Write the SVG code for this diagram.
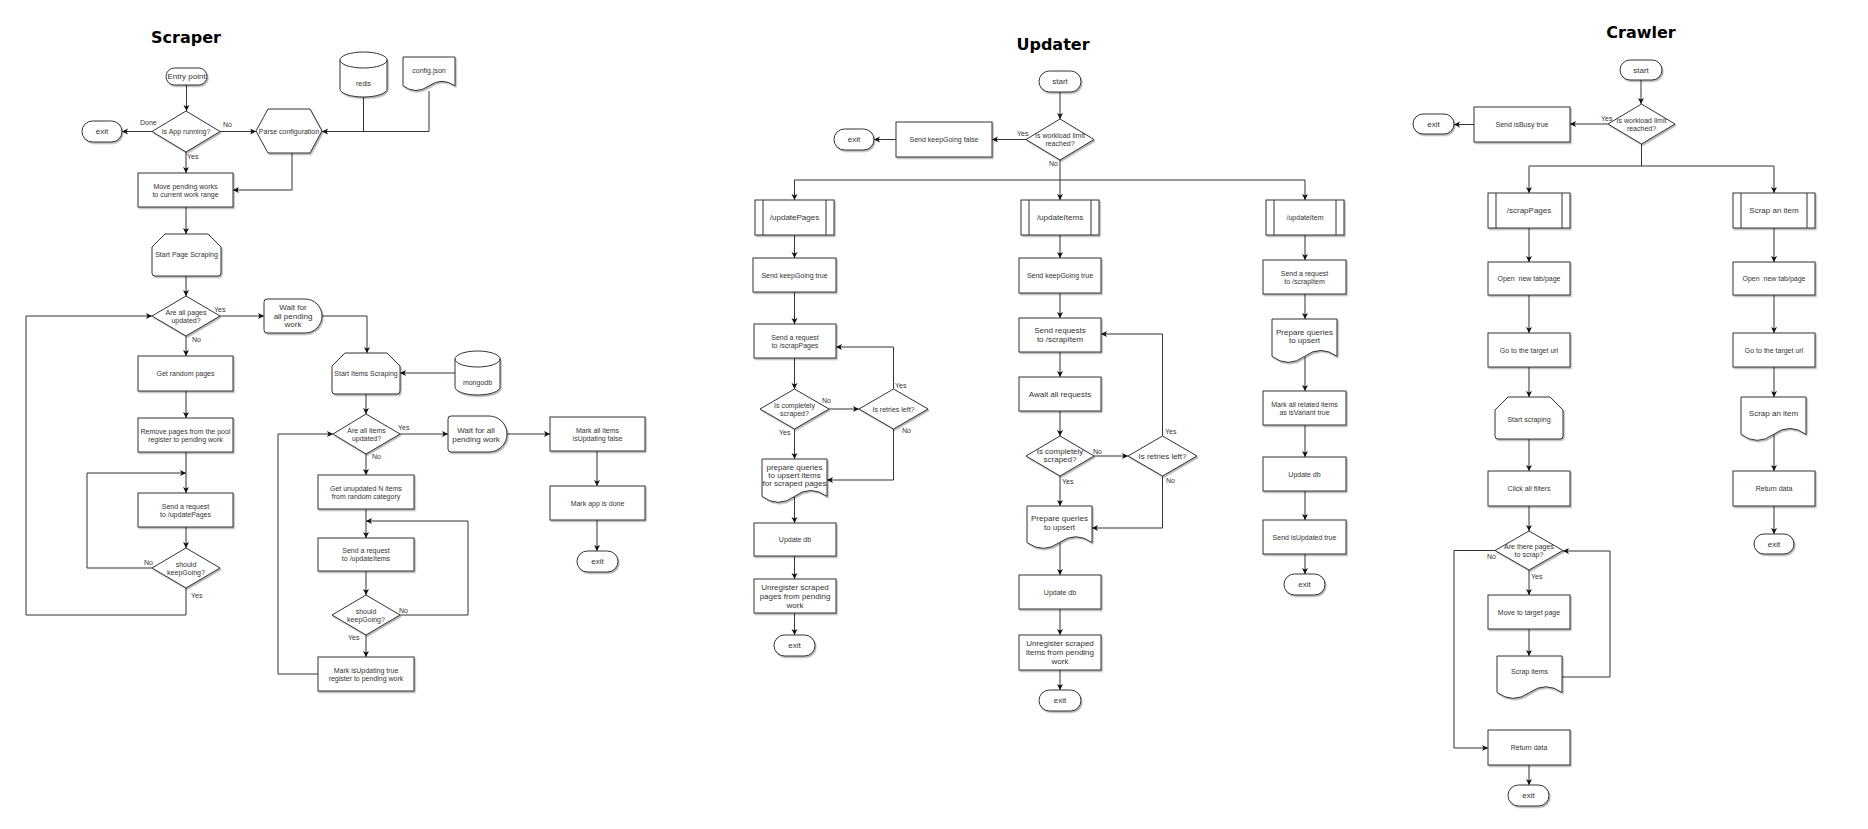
<svg xmlns="http://www.w3.org/2000/svg" width="1868" height="829" viewBox="0 0 1868 829">
<defs>
<style>
.s{fill:#fff;stroke:#333;stroke-width:1;filter:url(#sh)}
.i{fill:none;stroke:#333;stroke-width:1}
.c{fill:none;stroke:#333;stroke-width:1}
.a{marker-end:url(#ar)}
text{font-family:"Liberation Sans",Arial,sans-serif;fill:#333;text-anchor:middle}
.t{font-size:7px}
.t8{font-size:8px}
.l{font-size:7px;text-anchor:start}
.title{font-family:"DejaVu Sans",Verdana,sans-serif;font-weight:bold;font-size:16px;fill:#000}
</style>
<filter id="sh" x="-10%" y="-10%" width="130%" height="140%">
<feDropShadow dx="1.2" dy="1.5" stdDeviation="0.6" flood-color="#000" flood-opacity="0.3"/>
</filter>
<marker id="ar" markerUnits="userSpaceOnUse" markerWidth="7" markerHeight="7" refX="6" refY="3" orient="auto">
<path d="M0,0 L6,3 L0,6 L1.5,3 Z" fill="#111"/>
</marker>
</defs>
<rect width="1868" height="829" fill="#fff"/>

<text class="title" x="186" y="43">Scraper</text>
<text class="title" x="1053" y="50">Updater</text>
<text class="title" x="1641" y="38">Crawler</text>

<g id="connectors">
<!-- Scraper -->
<path class="c a" d="M186.5,85 V111"/>
<path class="c a" d="M152,131.5 H122"/>
<path class="c a" d="M220,131.5 H256"/>
<path class="c a" d="M186,152 V173"/>
<path class="c" d="M363.5,97 V131.5"/>
<path class="c a" d="M429,91 V131.5 H322"/>
<path class="c a" d="M292,153 V190 H233"/>
<path class="c a" d="M186,207 V234"/>
<path class="c a" d="M186,276 V296"/>
<path class="c a" d="M220,316 H264"/>
<path class="c a" d="M322,316 H367 V353"/>
<path class="c a" d="M186,336 V356"/>
<path class="c a" d="M186,391 V418"/>
<path class="c a" d="M186,452 V493"/>
<path class="c a" d="M152,568 H87 V473 H186"/>
<path class="c a" d="M186,527 V548"/>
<path class="c a" d="M186,588 V615 H26 V316 H152"/>
<path class="c a" d="M455,373 H400"/>
<path class="c a" d="M366,394 V414"/>
<path class="c a" d="M400,434 H448"/>
<path class="c a" d="M507,434 H550"/>
<path class="c a" d="M597,451 V486"/>
<path class="c a" d="M597,520 V551"/>
<path class="c a" d="M366,454 V475"/>
<path class="c a" d="M366,509 V538"/>
<path class="c a" d="M400,615 H468 V521 H366"/>
<path class="c a" d="M366,571 V595"/>
<path class="c a" d="M366,635 V657"/>
<path class="c a" d="M318,674 H278 V434 H333"/>
<text class="l" x="140" y="125">Done</text>
<text class="l" x="223" y="127">No</text>
<text class="l" x="187" y="159">Yes</text>
<text class="l" x="214" y="312">Yes</text>
<text class="l" x="192" y="342">No</text>
<text class="l" x="144" y="564.5">No</text>
<text class="l" x="191" y="598">Yes</text>
<text class="l" x="398" y="429.5">Yes</text>
<text class="l" x="372" y="459">No</text>
<text class="l" x="399" y="613">No</text>
<text class="l" x="348" y="640">Yes</text>
<!-- Updater -->
<path class="c a" d="M1060,92 V119"/>
<path class="c a" d="M1026,139.5 H992"/>
<path class="c a" d="M896,139.5 H874"/>
<path class="c a" d="M1060,160 V200"/>
<path class="c" d="M794.5,180 H1305"/>
<path class="c a" d="M794.5,180 V200"/>
<path class="c a" d="M1305,180 V200"/>
<path class="c a" d="M794.5,235 V258"/>
<path class="c a" d="M1060,235 V258"/>
<path class="c a" d="M1305,235 V260"/>
<path class="c a" d="M794.5,292 V324"/>
<path class="c a" d="M794.5,358 V389"/>
<path class="c a" d="M829,409 H859"/>
<path class="c a" d="M893.5,389 V347 H836"/>
<path class="c a" d="M893.5,429 V480 H827"/>
<path class="c a" d="M794.5,429 V459"/>
<path class="c a" d="M794.5,496.4 V523"/>
<path class="c a" d="M794.5,556 V579"/>
<path class="c a" d="M794.5,613 V635"/>
<path class="c a" d="M1060,293 V318"/>
<path class="c a" d="M1060,352 V377"/>
<path class="c a" d="M1060,411 V436"/>
<path class="c a" d="M1094,456 H1128"/>
<path class="c a" d="M1162.5,436 V334 H1101"/>
<path class="c a" d="M1162.5,476 V528 H1092"/>
<path class="c a" d="M1060,476 V506"/>
<path class="c a" d="M1060,542.5 V575"/>
<path class="c a" d="M1060,609 V635"/>
<path class="c a" d="M1060,670 V690"/>
<path class="c a" d="M1305,294 V319"/>
<path class="c a" d="M1305,356.4 V391"/>
<path class="c a" d="M1305,425 V457"/>
<path class="c a" d="M1305,491 V520"/>
<path class="c a" d="M1305,554 V574"/>
<text class="l" x="1017" y="136">Yes</text>
<text class="l" x="1049" y="166">No</text>
<text class="l" x="822" y="403">No</text>
<text class="l" x="779" y="435">Yes</text>
<text class="l" x="895" y="388">Yes</text>
<text class="l" x="902" y="432.5">No</text>
<text class="l" x="1093" y="454">No</text>
<text class="l" x="1062" y="484">Yes</text>
<text class="l" x="1165" y="434">Yes</text>
<text class="l" x="1166" y="483">No</text>
<!-- Crawler -->
<path class="c a" d="M1641,80 V104"/>
<path class="c a" d="M1608,124 H1570"/>
<path class="c a" d="M1474,124.5 H1454"/>
<path class="c" d="M1641.5,144 V166"/>
<path class="c" d="M1529,166 H1774"/>
<path class="c a" d="M1529,166 V193"/>
<path class="c a" d="M1774,166 V193"/>
<path class="c a" d="M1529,228 V262"/>
<path class="c a" d="M1529,295 V333"/>
<path class="c a" d="M1529,367 V397"/>
<path class="c a" d="M1529,439 V471"/>
<path class="c a" d="M1529,506 V531"/>
<path class="c a" d="M1495,550.5 H1454 V748 H1488"/>
<path class="c a" d="M1529,570 V595"/>
<path class="c a" d="M1529,629 V656"/>
<path class="c a" d="M1562,677 H1610 V551 H1563"/>
<path class="c a" d="M1529,765 V785"/>
<path class="c a" d="M1774,228 V262"/>
<path class="c a" d="M1774,295 V333"/>
<path class="c a" d="M1774,367 V397"/>
<path class="c a" d="M1774,434.4 V471"/>
<path class="c a" d="M1774,506 V534"/>
<text class="l" x="1601" y="121">Yes</text>
<text class="l" x="1487" y="559">No</text>
<text class="l" x="1531" y="578.5">Yes</text>
</g>

<!-- ===== Scraper nodes ===== -->
<g id="s-entry"><rect class="s" x="166" y="68" width="41" height="17" rx="8.5"/><text class="t8" x="186.5" y="79.3">Entry point</text></g>
<g id="s-running"><polygon class="s" points="152,131.5 186,111 220,131.5 186,152"/><text class="t" x="186" y="134">Is App running?</text></g>
<g id="s-exit1"><rect class="s" x="82" y="121" width="40" height="21" rx="10.5"/><text class="t8" x="102" y="134.3">exit</text></g>
<g id="s-parse"><polygon class="s" points="256,131 268,109 310,109 322,131 310,153 268,153"/><text class="t" x="289" y="133.5">Parse configuration</text></g>
<g id="s-redis"><path class="s" d="M340,60 A23.5,8 0 0 1 387,60 V89 A23.5,8 0 0 1 340,89 Z"/><path class="i" d="M340,60 A23.5,8 0 0 0 387,60"/><text class="t" x="363.5" y="85.5">redis</text></g>
<g id="s-config"><path class="s" d="M403,57 H455 V85.9 Q442,76.7 429,85.9 Q416,95.1 403,85.9 Z"/><text class="t" x="429" y="72.5">config.json</text></g>
<g id="s-move"><rect class="s" x="138" y="173" width="95" height="34"/><text class="t" x="185.5" y="189">Move pending works<tspan x="185.5" dy="8">to current work range</tspan></text></g>
<g id="s-startpage"><path class="s" d="M165,234 H208 L221,247 V273 Q221,276 218,276 H155 Q152,276 152,273 V247 Z"/><text class="t" x="186.5" y="257">Start Page Scraping</text></g>
<g id="s-allpages"><polygon class="s" points="152,316 186,296 220,316 186,336"/><text class="t" x="186" y="314.5">Are all pages<tspan x="186" dy="8">updated?</tspan></text></g>
<g id="s-wait1"><path class="s" d="M267,299 H305 A17,17 0 0 1 305,333 H267 Q264,333 264,330 V302 Q264,299 267,299 Z"/><text class="t8" x="293" y="310">Wait for<tspan x="293" dy="8.5">all pending</tspan><tspan x="293" dy="8.5">work</tspan></text></g>
<g id="s-random"><rect class="s" x="138" y="356" width="95" height="35"/><text class="t" x="185.5" y="376">Get random pages</text></g>
<g id="s-remove"><rect class="s" x="138" y="418" width="95" height="34"/><text class="t" x="185.5" y="434">Remove pages from the pool<tspan x="185.5" dy="8">register to pending work</tspan></text></g>
<g id="s-sendpages"><rect class="s" x="138" y="493" width="95" height="34"/><text class="t" x="185.5" y="509">Send a request<tspan x="185.5" dy="8">to /updatePages</tspan></text></g>
<g id="s-keep1"><polygon class="s" points="152,568 186,548 220,568 186,588"/><text class="t" x="186" y="566.5">should<tspan x="186" dy="8">keepGoing?</tspan></text></g>
<g id="s-startitems"><path class="s" d="M345,353 H387 L400,366 V391 Q400,394 397,394 H335 Q332,394 332,391 V366 Z"/><text class="t" x="366" y="376">Start Items Scraping</text></g>
<g id="s-mongodb"><path class="s" d="M455,359 A22.5,8 0 0 1 500,359 V387 A22.5,8 0 0 1 455,387 Z"/><path class="i" d="M455,359 A22.5,8 0 0 0 500,359"/><text class="t" x="477.5" y="384.5">mongodb</text></g>
<g id="s-allitems"><polygon class="s" points="333,434 366,414 400,434 366,454"/><text class="t" x="366.5" y="432.5">Are all items<tspan x="366.5" dy="8">updated?</tspan></text></g>
<g id="s-wait2"><path class="s" d="M451,416 H489 A18,18 0 0 1 489,452 H451 Q448,452 448,449 V419 Q448,416 451,416 Z"/><text class="t8" x="476" y="432.5">Wait for all<tspan x="476" dy="9">pending work</tspan></text></g>
<g id="s-markfalse"><rect class="s" x="550" y="417" width="95" height="34"/><text class="t" x="597.5" y="433">Mark all items<tspan x="597.5" dy="8">isUpdating false</tspan></text></g>
<g id="s-markdone"><rect class="s" x="550" y="486" width="95" height="34"/><text class="t" x="597.5" y="505.5">Mark app is done</text></g>
<g id="s-exit2"><rect class="s" x="577" y="551" width="41" height="21" rx="10.5"/><text class="t8" x="597.5" y="564.3">exit</text></g>
<g id="s-unupdated"><rect class="s" x="318" y="475" width="96" height="34"/><text class="t" x="366" y="491">Get unupdated N items<tspan x="366" dy="8">from random category</tspan></text></g>
<g id="s-senditems"><rect class="s" x="318" y="538" width="96" height="33"/><text class="t" x="366" y="553">Send a request<tspan x="366" dy="8">to /updateItems</tspan></text></g>
<g id="s-keep2"><polygon class="s" points="332,615 366,595 400,615 366,635"/><text class="t" x="366" y="613.5">should<tspan x="366" dy="8">keepGoing?</tspan></text></g>
<g id="s-marktrue"><rect class="s" x="318" y="657" width="96" height="34"/><text class="t" x="366" y="673">Mark isUpdating true<tspan x="366" dy="8">register to pending work</tspan></text></g>

<!-- ===== Updater nodes ===== -->
<g id="u-start"><rect class="s" x="1039" y="71" width="42" height="21" rx="10.5"/><text class="t8" x="1060" y="84.3">start</text></g>
<g id="u-limit"><polygon class="s" points="1026,139.5 1060,119 1094,139.5 1060,160"/><text class="t" x="1060" y="138">Is workload limit<tspan x="1060" dy="8">reached?</tspan></text></g>
<g id="u-false"><rect class="s" x="896" y="122" width="96" height="35"/><text class="t" x="944" y="142">Send keepGoing false</text></g>
<g id="u-exit0"><rect class="s" x="834" y="129" width="40" height="21" rx="10.5"/><text class="t8" x="854" y="142.3">exit</text></g>
<g id="u-updatepages"><rect class="s" x="755" y="200" width="79" height="35"/><path class="i" d="M763,200 V235 M826,200 V235"/><text class="t8" x="794.5" y="220.3">/updatePages</text></g>
<g id="u-updateitems"><rect class="s" x="1021" y="200" width="78" height="35"/><path class="i" d="M1029,200 V235 M1091,200 V235"/><text class="t8" x="1060" y="220.3">/updateItems</text></g>
<g id="u-updateitem"><rect class="s" x="1266" y="200" width="78" height="35"/><path class="i" d="M1274,200 V235 M1336,200 V235"/><text class="t" x="1305" y="220">/updateItem</text></g>
<g id="u-kg1"><rect class="s" x="753" y="258" width="83" height="34"/><text class="t" x="794.5" y="277.5">Send keepGoing true</text></g>
<g id="u-kg2"><rect class="s" x="1019" y="258" width="82" height="35"/><text class="t" x="1060" y="278">Send keepGoing true</text></g>
<g id="u-reqitem"><rect class="s" x="1263" y="260" width="83" height="34"/><text class="t" x="1304.5" y="276">Send a request<tspan x="1304.5" dy="8">to /scrapItem</tspan></text></g>
<g id="u-reqpages"><rect class="s" x="754" y="324" width="82" height="34"/><text class="t" x="795" y="340">Send a request<tspan x="795" dy="8">to /scrapPages</tspan></text></g>
<g id="u-comp1"><polygon class="s" points="760,409 794.5,389 829,409 794.5,429"/><text class="t" x="794.5" y="407.5">Is completely<tspan x="794.5" dy="8">scraped?</tspan></text></g>
<g id="u-retry1"><polygon class="s" points="859,409 893.5,389 928,409 893.5,429"/><text class="t" x="893.5" y="411.5">Is retries left?</text></g>
<g id="u-prep1"><path class="s" d="M762,459 H827 V496.4 Q810.75,484.5 794.5,496.4 Q778.25,508.3 762,496.4 Z"/><text class="t8" x="794.5" y="469.5">prepare queries<tspan x="794.5" dy="8">to upsert items</tspan><tspan x="794.5" dy="8">for scraped pages</tspan></text></g>
<g id="u-upd1"><rect class="s" x="754" y="523" width="82" height="33"/><text class="t" x="795" y="542">Update db</text></g>
<g id="u-unreg1"><rect class="s" x="754" y="579" width="82" height="34"/><text class="t8" x="795" y="590">Unregister scraped<tspan x="795" dy="9">pages from pending</tspan><tspan x="795" dy="9">work</tspan></text></g>
<g id="u-exit1"><rect class="s" x="774" y="635" width="41" height="21" rx="10.5"/><text class="t8" x="794.5" y="648.3">exit</text></g>
<g id="u-reqs"><rect class="s" x="1019" y="318" width="82" height="34"/><text class="t8" x="1060" y="333">Send requests<tspan x="1060" dy="9">to /scrapItem</tspan></text></g>
<g id="u-await"><rect class="s" x="1019" y="377" width="82" height="34"/><text class="t8" x="1060" y="396.8">Await all requests</text></g>
<g id="u-comp2"><polygon class="s" points="1026,456 1060,436 1094,456 1060,476"/><text class="t8" x="1060" y="454">Is completely<tspan x="1060" dy="8">scraped?</tspan></text></g>
<g id="u-retry2"><polygon class="s" points="1128,456 1162.5,436 1197,456 1162.5,476"/><text class="t8" x="1162.5" y="458.8">Is retries left?</text></g>
<g id="u-prep2"><path class="s" d="M1027,506 H1092 V542.55 Q1075.75,530.94 1059.5,542.55 Q1043.25,554.16 1027,542.55 Z"/><text class="t8" x="1059.5" y="520.5">Prepare queries<tspan x="1059.5" dy="9">to upsert</tspan></text></g>
<g id="u-upd2"><rect class="s" x="1019" y="575" width="82" height="34"/><text class="t" x="1060" y="594.5">Update db</text></g>
<g id="u-unreg2"><rect class="s" x="1019" y="635" width="82" height="35"/><text class="t8" x="1060" y="646">Unregister scraped<tspan x="1060" dy="9">items from pending</tspan><tspan x="1060" dy="9">work</tspan></text></g>
<g id="u-exit2"><rect class="s" x="1039" y="690" width="42" height="21" rx="10.5"/><text class="t8" x="1060" y="703.3">exit</text></g>
<g id="u-prep3"><path class="s" d="M1272,319 H1337 V356.4 Q1320.75,344.5 1304.5,356.4 Q1288.25,368.3 1272,356.4 Z"/><text class="t8" x="1304.5" y="334.5">Prepare queries<tspan x="1304.5" dy="8">to upsert</tspan></text></g>
<g id="u-markvar"><rect class="s" x="1263" y="391" width="83" height="34"/><text class="t" x="1304.5" y="407">Mark all related items<tspan x="1304.5" dy="8">as isVariant true</tspan></text></g>
<g id="u-upd3"><rect class="s" x="1263" y="457" width="83" height="34"/><text class="t" x="1304.5" y="476.5">Update db</text></g>
<g id="u-isupd"><rect class="s" x="1263" y="520" width="83" height="34"/><text class="t" x="1304.5" y="539.5">Send isUpdated true</text></g>
<g id="u-exit3"><rect class="s" x="1284" y="574" width="41" height="21" rx="10.5"/><text class="t8" x="1304.5" y="587.3">exit</text></g>

<!-- ===== Crawler nodes ===== -->
<g id="c-start"><rect class="s" x="1620" y="60" width="42" height="20" rx="10"/><text class="t8" x="1641" y="72.8">start</text></g>
<g id="c-limit"><polygon class="s" points="1608,124 1641.5,104 1675,124 1641.5,144"/><text class="t" x="1641.5" y="122.5">Is workload limit<tspan x="1641.5" dy="8">reached?</tspan></text></g>
<g id="c-busy"><rect class="s" x="1474" y="107" width="96" height="35"/><text class="t" x="1522" y="127">Send isBusy true</text></g>
<g id="c-exit0"><rect class="s" x="1413" y="114" width="41" height="20" rx="10"/><text class="t8" x="1433.5" y="126.8">exit</text></g>
<g id="c-scrappages"><rect class="s" x="1488" y="193" width="82" height="35"/><path class="i" d="M1496,193 V228 M1562,193 V228"/><text class="t8" x="1529" y="213.3">/scrapPages</text></g>
<g id="c-scrapitem"><rect class="s" x="1733" y="193" width="82" height="35"/><path class="i" d="M1741,193 V228 M1807,193 V228"/><text class="t8" x="1774" y="213.3">Scrap an item</text></g>
<g id="c-open1"><rect class="s" x="1488" y="262" width="82" height="33"/><text class="t" x="1529" y="281" xml:space="preserve">Open  new tab/page</text></g>
<g id="c-open2"><rect class="s" x="1733" y="262" width="82" height="33"/><text class="t" x="1774" y="281" xml:space="preserve">Open  new tab/page</text></g>
<g id="c-goto1"><rect class="s" x="1488" y="333" width="82" height="34"/><text class="t" x="1529" y="352.5">Go to the target url</text></g>
<g id="c-goto2"><rect class="s" x="1733" y="333" width="82" height="34"/><text class="t" x="1774" y="352.5">Go to the target url</text></g>
<g id="c-startscr"><path class="s" d="M1508,397 H1550 L1563,410 V436 Q1563,439 1560,439 H1498 Q1495,439 1495,436 V410 Z"/><text class="t" x="1529" y="421.5">Start scraping</text></g>
<g id="c-scrapdoc"><path class="s" d="M1741,397 H1806 V434.4 Q1789.75,422.5 1773.5,434.4 Q1757.25,446.3 1741,434.4 Z"/><text class="t8" x="1773.5" y="416">Scrap an item</text></g>
<g id="c-click"><rect class="s" x="1488" y="471" width="82" height="35"/><text class="t" x="1529" y="491">Click all filters</text></g>
<g id="c-return2"><rect class="s" x="1733" y="471" width="82" height="35"/><text class="t" x="1774" y="491">Return data</text></g>
<g id="c-exit2"><rect class="s" x="1754" y="534" width="40" height="20" rx="10"/><text class="t8" x="1774" y="546.8">exit</text></g>
<g id="c-pages"><polygon class="s" points="1495,550.5 1529,531 1563,550.5 1529,570"/><text class="t" x="1529" y="549">Are there pages<tspan x="1529" dy="8">to scrap?</tspan></text></g>
<g id="c-move"><rect class="s" x="1488" y="595" width="82" height="34"/><text class="t" x="1529" y="614.5">Move to target page</text></g>
<g id="c-scritems"><path class="s" d="M1497,656 H1562 V692.55 Q1545.75,680.94 1529.5,692.55 Q1513.25,704.16 1497,692.55 Z"/><text class="t" x="1529.5" y="673.5">Scrap items</text></g>
<g id="c-return1"><rect class="s" x="1488" y="730" width="82" height="35"/><text class="t" x="1529" y="750">Return data</text></g>
<g id="c-exit1"><rect class="s" x="1508" y="785" width="41" height="21" rx="10.5"/><text class="t8" x="1528.5" y="798.3">exit</text></g>
</svg>
